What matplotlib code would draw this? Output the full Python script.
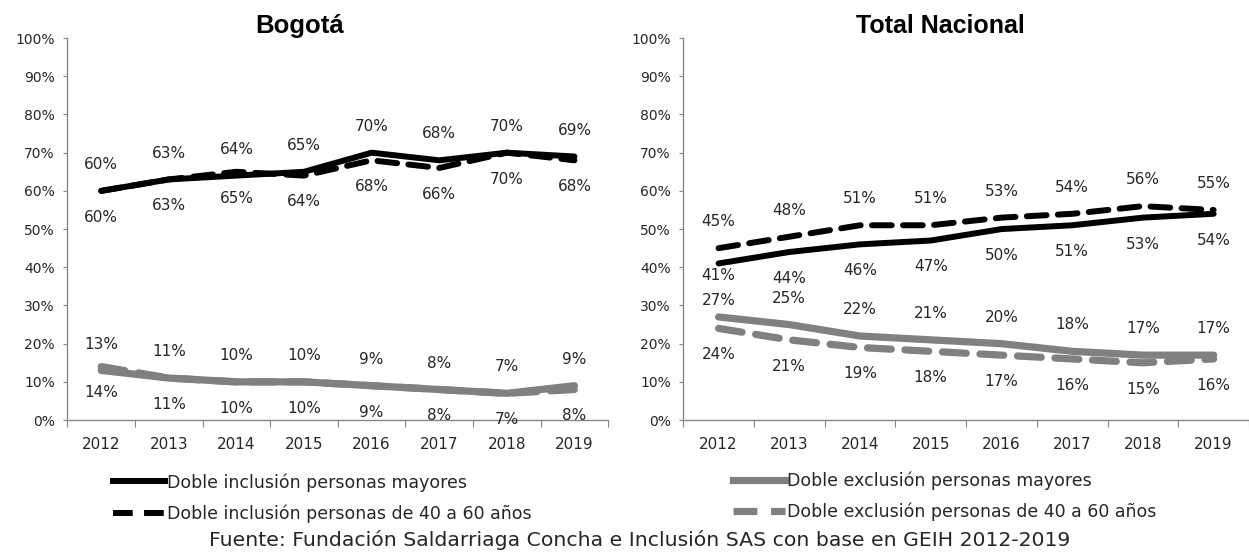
import matplotlib

matplotlib.use("Agg")
import matplotlib.pyplot as plt
import numpy as np

# Doble inclusión / exclusión, Bogotá vs Total Nacional

years = ["2012", "2013", "2014", "2015", "2016", "2017", "2018", "2019"]

# Bogotá
bog_inc_mayores = [60, 63, 64, 65, 70, 68, 70, 69]
bog_inc_40_60 = [60, 63, 65, 64, 68, 66, 70, 68]
bog_exc_mayores = [13, 11, 10, 10, 9, 8, 7, 9]
bog_exc_40_60 = [14, 11, 10, 10, 9, 8, 7, 8]

# Total Nacional
nal_inc_mayores = [41, 44, 46, 47, 50, 51, 53, 54]
nal_inc_40_60 = [45, 48, 51, 51, 53, 54, 56, 55]
nal_exc_mayores = [27, 25, 22, 21, 20, 18, 17, 17]
nal_exc_40_60 = [24, 21, 19, 18, 17, 16, 15, 16]

plt.rcParams["font.family"] = ["DejaVu Sans"]

BLACK = "#000000"
GRAY = "#808080"
AXCOL = "#868686"
TXT = "#262626"
DASH = (0, (3.3, 1.9))

fig = plt.figure(figsize=(12.49, 5.52), dpi=100)
ax1 = fig.add_axes([0.054, 0.239, 0.433, 0.692])
ax2 = fig.add_axes([0.547, 0.239, 0.453, 0.692])

x = np.arange(len(years))


def draw_series(ax, vals, color, lw, dashed, label_pos, nudge=None):
    ax.plot(x, vals, color=color, lw=lw, ls=DASH if dashed else "-",
            solid_capstyle="round", dash_capstyle="round")
    off = 19 if label_pos == "above" else -19
    nudge = nudge or {}
    for xi, v in zip(x, vals):
        ax.annotate(f"{v}%", (xi, v), xytext=(0, nudge.get(xi, off)),
                    textcoords="offset points", ha="center", va="center",
                    fontsize=11, color=TXT)


def style_axis(ax):
    ax.set_xlim(-0.5, len(years) - 0.5)
    ax.set_ylim(0, 100)
    ax.set_yticks(range(0, 101, 10))
    ax.set_yticklabels([f"{v}%" for v in range(0, 101, 10)], fontsize=10, color=TXT)
    ax.set_xticks(np.arange(-0.5, len(years), 1))
    ax.set_xticklabels([])
    ax.set_xticks(x, minor=True)
    ax.set_xticklabels(years, minor=True, fontsize=11, color=TXT)
    ax.tick_params(axis="x", which="major", length=5, color=AXCOL, direction="out")
    ax.tick_params(axis="x", which="minor", length=0, pad=12)
    ax.tick_params(axis="y", length=3, color=AXCOL, pad=6)
    for s in ["top", "right"]:
        ax.spines[s].set_visible(False)
    for s in ["left", "bottom"]:
        ax.spines[s].set_color(AXCOL)
        ax.spines[s].set_linewidth(1)


# Bogotá
draw_series(ax1, bog_exc_40_60, GRAY, 5.2, True, "below")
draw_series(ax1, bog_exc_mayores, GRAY, 5.2, False, "above")
draw_series(ax1, bog_inc_40_60, BLACK, 4.3, True, "below")
draw_series(ax1, bog_inc_mayores, BLACK, 4.3, False, "above")
style_axis(ax1)

# Total Nacional
draw_series(ax2, nal_exc_40_60, GRAY, 5.2, True, "below")
draw_series(ax2, nal_exc_mayores, GRAY, 5.2, False, "above", nudge={0: 12})
draw_series(ax2, nal_inc_40_60, BLACK, 4.3, True, "above")
draw_series(ax2, nal_inc_mayores, BLACK, 4.3, False, "below", nudge={0: -9})
style_axis(ax2)

fig.text(0.24, 0.953, "Bogotá", ha="center", va="center", fontsize=18.5,
         fontweight="bold", family="Liberation Sans")
fig.text(0.7526, 0.953, "Total Nacional", ha="center", va="center", fontsize=18,
         fontweight="bold", family="Liberation Sans")

# legends
inc_handles = [
    plt.Line2D([], [], color=BLACK, lw=4.3, ls="-"),
    plt.Line2D([], [], color=BLACK, lw=4.3, ls=DASH),
]
exc_handles = [
    plt.Line2D([], [], color=GRAY, lw=5.2, ls="-"),
    plt.Line2D([], [], color=GRAY, lw=5.2, ls=DASH),
]
leg_kw = dict(loc="upper left", frameon=False, fontsize=12.5, handlelength=3.0,
              handletextpad=0.12, labelspacing=0.75, borderpad=0, borderaxespad=0,
              labelcolor=TXT)
fig.legend(inc_handles,
           ["Doble inclusión personas mayores",
            "Doble inclusión personas de 40 a 60 años"],
           bbox_to_anchor=(0.0905, 0.143), **leg_kw)
fig.legend(exc_handles,
           ["Doble exclusión personas mayores",
            "Doble exclusión personas de 40 a 60 años"],
           bbox_to_anchor=(0.587, 0.146), **leg_kw)

fig.text(0.512, 0.022, "Fuente: Fundación Saldarriaga Concha e Inclusión SAS con base en GEIH 2012-2019",
         ha="center", va="center", fontsize=14.7, color=TXT)

fig.savefig("out.png", dpi=100)
